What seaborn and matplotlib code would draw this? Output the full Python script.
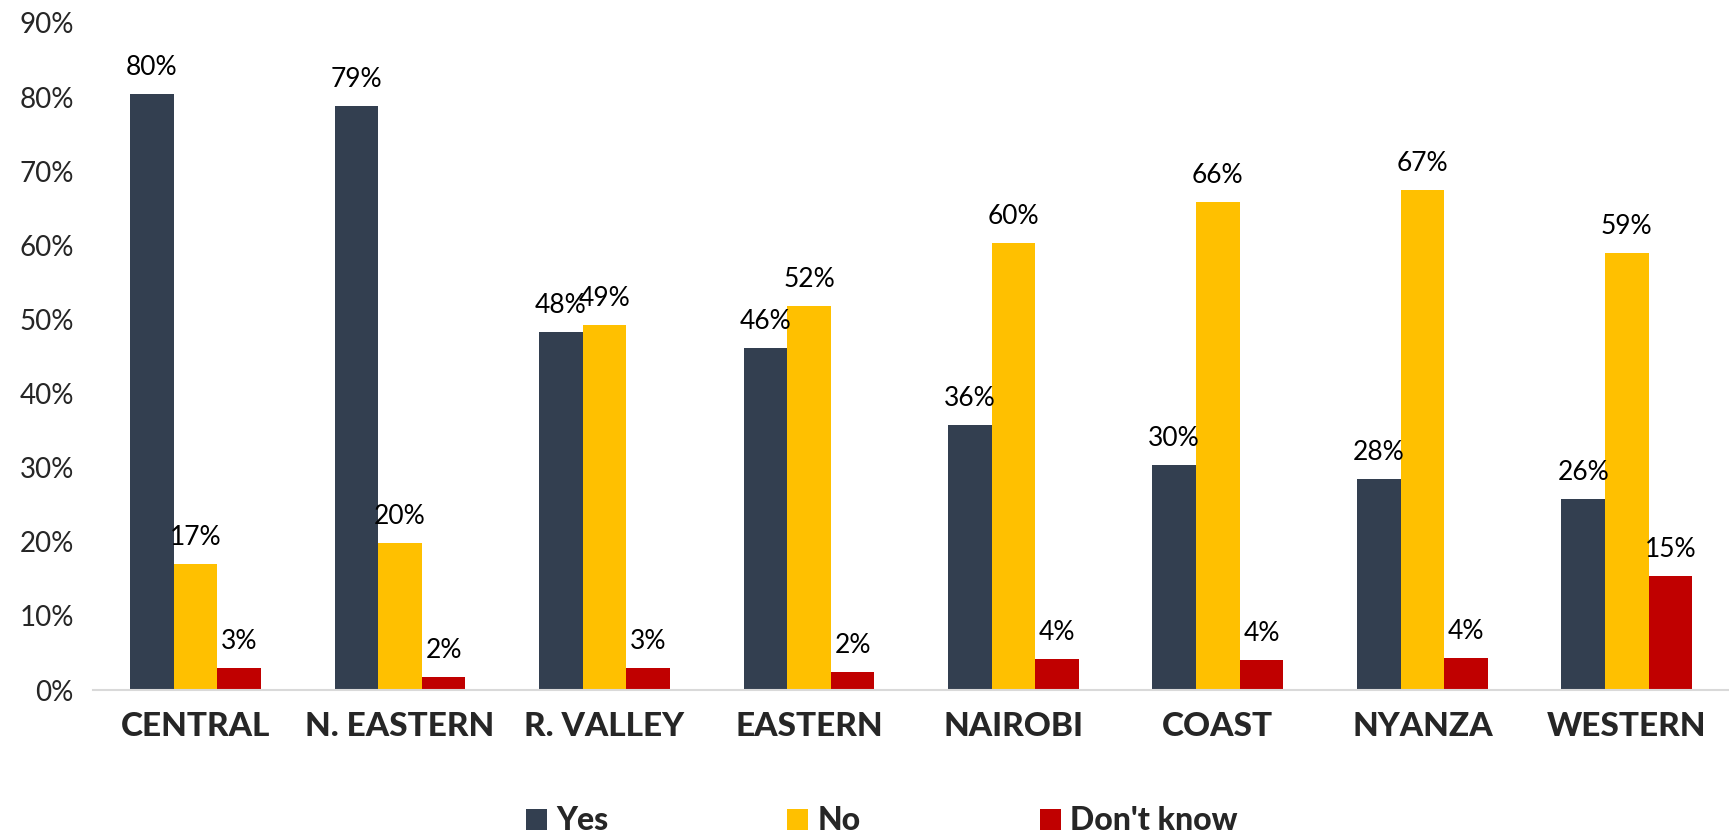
import matplotlib
matplotlib.use("Agg")
import matplotlib.pyplot as plt
import pandas as pd
import seaborn as sns


REGIONS = ["CENTRAL", "N. EASTERN", "R. VALLEY", "EASTERN", "NAIROBI", "COAST", "NYANZA", "WESTERN"]
SERIES = ["Yes", "No", "Don't know"]
YES = [80.4, 78.8, 48.3, 46.1, 35.8, 30.4, 28.5, 25.8]
NO = [17.0, 19.8, 49.3, 51.8, 60.3, 65.9, 67.5, 59.0]
DONT_KNOW = [3.0, 1.8, 3.0, 2.5, 4.2, 4.0, 4.3, 15.4]
LABELS = {
    "Yes": ["80%", "79%", "48%", "46%", "36%", "30%", "28%", "26%"],
    "No": ["17%", "20%", "49%", "52%", "60%", "66%", "67%", "59%"],
    "Don't know": ["3%", "2%", "3%", "2%", "4%", "4%", "4%", "15%"],
}
COLORS = ["#333F50", "#FFC000", "#C00000"]


def main() -> None:
    df = pd.DataFrame(
        {
            "region": REGIONS * 3,
            "answer": [s for s in SERIES for _ in REGIONS],
            "share": YES + NO + DONT_KNOW,
        }
    )

    sns.set_theme(style="white")
    plt.rcParams["font.family"] = ["Lato", "DejaVu Sans"]

    fig = plt.figure(figsize=(17.29, 8.36), dpi=100)
    ax = fig.add_axes([0.054, 0.1746, 0.946, 0.798])
    sns.barplot(
        data=df, x="region", y="share", hue="answer", order=REGIONS, hue_order=SERIES,
        palette=COLORS, width=0.64, saturation=1, linewidth=0, ax=ax,
    )

    # value labels sit just above each bar
    for container, name in zip(ax.containers, SERIES):
        ax.bar_label(container, labels=LABELS[name], padding=10, fontsize=19, color="black")

    ax.set_ylim(0, 90)
    ax.set_xlim(-0.5, len(REGIONS) - 0.5)
    ax.set_yticks(range(0, 91, 10))
    ax.set_yticklabels([f"{v}%" for v in range(0, 91, 10)], fontsize=20)
    ax.tick_params(axis="y", length=0, pad=14)
    ax.tick_params(axis="x", length=0, pad=16)
    for lbl in ax.get_xticklabels():
        lbl.set_fontsize(24)
        lbl.set_fontweight("black")
    ax.set_xlabel("")
    ax.set_ylabel("")
    for side in ["top", "right", "left"]:
        ax.spines[side].set_visible(False)
    ax.spines["bottom"].set_color("#D9D9D9")
    ax.spines["bottom"].set_linewidth(1.5)

    handles, labels = ax.get_legend_handles_labels()
    ax.legend_.remove()
    fig.legend(
        handles, labels, loc="center", bbox_to_anchor=(0.51, 0.018), ncol=3, frameon=False,
        prop={"size": 23, "weight": "black"}, handlelength=0.65, handleheight=0.65,
        handletextpad=0.3, columnspacing=5.6,
    )

    fig.savefig("out.png", dpi=100)
    plt.close(fig)


if __name__ == "__main__":
    main()
